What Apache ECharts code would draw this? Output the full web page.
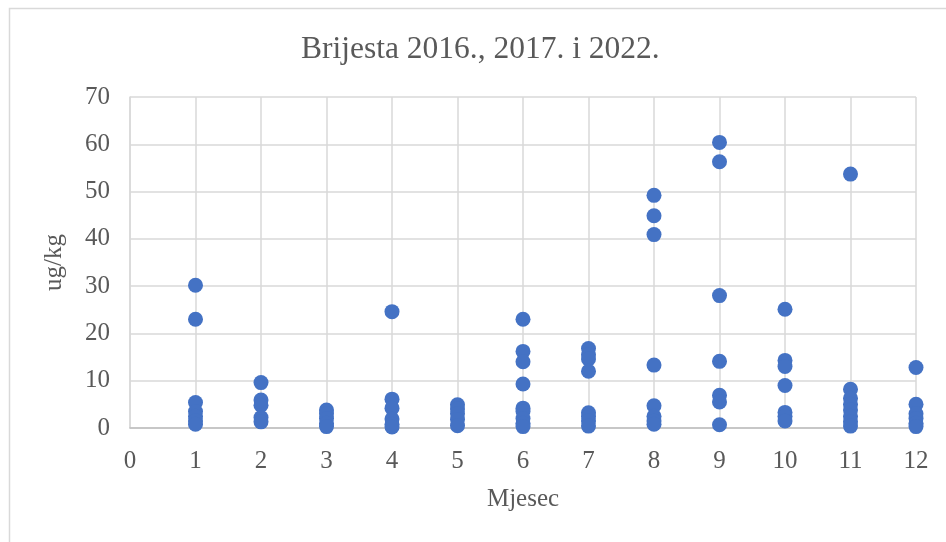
<!DOCTYPE html>
<html>
<head>
<meta charset="utf-8">
<script src="https://cdn.jsdelivr.net/npm/echarts@6/dist/echarts.min.js"></script>
<style>html,body{margin:0;padding:0;background:#fff}#c{width:946px;height:542px}</style>
</head>
<body>
<div id="c"></div>
<script>
const months = [1,2,3,4,5,6,7,8,9,10,11,12];
const m1 = [30.2, 23.0, 5.4, 3.5, 2.5, 1.5, 0.8];
const m2 = [9.6, 5.9, 4.8, 2.2, 1.3];
const m3 = [3.8, 3.0, 2.0, 1.0, 0.3];
const m4 = [24.6, 6.1, 4.2, 1.9, 0.8, 0.2];
const m5 = [4.9, 4.0, 3.0, 1.8, 0.5];
const m6 = [23.0, 16.2, 14.0, 9.3, 4.2, 3.5, 2.0, 1.0, 0.3];
const m7 = [16.8, 15.5, 14.6, 12.0, 3.2, 2.5, 1.5, 0.4];
const m8 = [49.2, 44.9, 40.9, 13.3, 4.7, 2.5, 1.5, 0.8];
const m9 = [60.4, 56.3, 28.0, 14.1, 6.9, 5.5, 0.7];
const m10 = [25.1, 14.3, 13.0, 9.0, 3.3, 2.5, 1.5];
const m11 = [53.7, 8.2, 6.3, 5.0, 3.8, 2.5, 1.3, 0.4];
const m12 = [12.8, 5.0, 3.0, 2.0, 1.0, 0.3];
const valuesByMonth = [m1,m2,m3,m4,m5,m6,m7,m8,m9,m10,m11,m12];
const titleText = 'Brijesta 2016., 2017. i 2022.';
const xName = 'Mjesec';
const yName = 'ug/kg';

const points = [];
valuesByMonth.forEach((arr, i) => arr.forEach(v => points.push([months[i], v])));

const font = '"Liberation Serif", "Times New Roman", serif';
const chart = echarts.init(document.getElementById('c'));
chart.setOption({
  animation: false,
  backgroundColor: '#fff',
  graphic: [{
    type: 'rect', left: 7, top: 6, shape: {width: 1000, height: 1000},
    style: {fill: 'none', stroke: '#d9d9d9', lineWidth: 1.5}, silent: true, z: -1
  }],
  title: {
    text: titleText, left: 301, top: 34, padding: 0,
    textStyle: {fontFamily: font, fontSize: 31.5, fontWeight: 'normal', color: '#595959'}
  },
  grid: {left: 130, right: 30, top: 97, bottom: 114},
  xAxis: {
    type: 'value', min: 0, max: 12, interval: 1,
    name: xName, nameLocation: 'middle', nameGap: 59,
    nameTextStyle: {fontFamily: font, fontSize: 25, color: '#595959'},
    axisLine: {show: true, lineStyle: {color: '#bfbfbf', width: 1.5}},
    axisTick: {show: false},
    axisLabel: {fontFamily: font, fontSize: 25, color: '#595959', margin: 21},
    splitLine: {show: true, lineStyle: {color: '#d9d9d9', width: 1.5}}
  },
  yAxis: {
    type: 'value', min: 0, max: 70, interval: 10,
    name: yName, nameLocation: 'middle', nameGap: 63, nameRotate: 90,
    nameTextStyle: {fontFamily: font, fontSize: 25, color: '#595959'},
    axisLine: {show: true, lineStyle: {color: '#d9d9d9', width: 1.5}},
    axisTick: {show: false},
    axisLabel: {fontFamily: font, fontSize: 25, color: '#595959', margin: 20},
    splitLine: {show: true, lineStyle: {color: '#d9d9d9', width: 1.5}}
  },
  series: [{
    type: 'scatter', data: points, symbol: 'circle', symbolSize: 15,
    itemStyle: {color: '#4472c4', opacity: 1}
  }]
});
</script>
</body>
</html>
